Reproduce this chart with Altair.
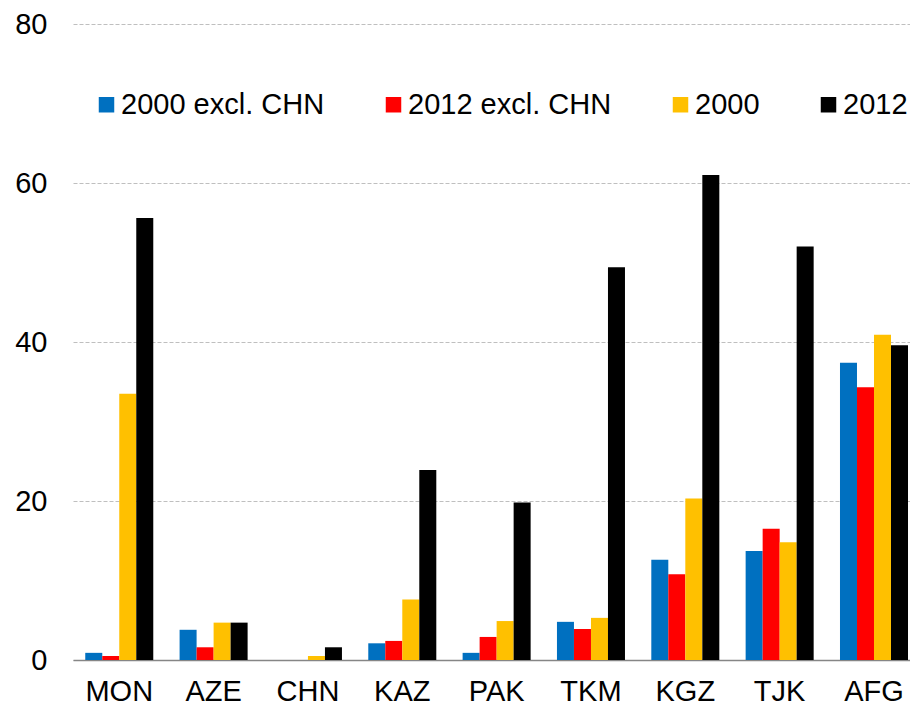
import altair as alt
import pandas as pd

countries = ["MON", "AZE", "CHN", "KAZ", "PAK", "TKM", "KGZ", "TJK", "AFG"]
series = ["2000 excl. CHN", "2012 excl. CHN", "2000", "2012"]
v2000_ex = [0.9, 3.8, 0.0, 2.1, 0.9, 4.8, 12.6, 13.7, 37.4]
v2012_ex = [0.5, 1.6, 0.0, 2.4, 2.9, 3.9, 10.8, 16.5, 34.3]
v2000 = [33.5, 4.7, 0.5, 7.6, 4.9, 5.3, 20.3, 14.8, 40.9]
v2012 = [55.6, 4.7, 1.6, 23.9, 19.8, 49.4, 61.0, 52.0, 39.6]
colors = ["#0070C0", "#FF0000", "#FFC000", "#000000"]
y_ticks = [0, 20, 40, 60, 80]

rows = []
for s, vals in zip(series, [v2000_ex, v2012_ex, v2000, v2012]):
    for c, v in zip(countries, vals):
        rows.append({"country": c, "series": s, "value": v})
df = pd.DataFrame(rows)

FONT = "Liberation Sans"
FS = 29

chart = alt.Chart(df).mark_bar().encode(
    x=alt.X("country:N", sort=countries,
            scale=alt.Scale(paddingInner=0.279, paddingOuter=0.0755, align=0.86),
            axis=alt.Axis(title=None, labelAngle=0, ticks=False, domain=True,
                          domainColor="#868686", domainWidth=1.5, grid=False,
                          labelPadding=17, labelFontSize=FS, labelFont=FONT,
                          labelColor="#000000")),
    xOffset=alt.XOffset("series:N", sort=series,
                        scale=alt.Scale(domain=series, paddingInner=0, paddingOuter=0)),
    y=alt.Y("value:Q", scale=alt.Scale(domain=[0, 80], nice=False),
            axis=alt.Axis(title=None, values=y_ticks, ticks=False, domain=False,
                          grid=True, gridColor="#BFBFBF", gridDash=[4, 2], gridWidth=1,
                          labelPadding=26, labelFontSize=FS, labelFont=FONT,
                          labelColor="#000000")),
    color=alt.Color("series:N", sort=series,
                    scale=alt.Scale(domain=series, range=colors),
                    legend=alt.Legend(title=None, orient="none", legendX=19, legendY=66,
                                      direction="horizontal", columns=4, columnPadding=54,
                                      symbolType="square", symbolSize=240,
                                      symbolStrokeWidth=0, labelFontSize=FS,
                                      labelFont=FONT, labelColor="#000000",
                                      labelOffset=0, labelLimit=0)),
).properties(
    width=837, height=636,
    autosize=alt.AutoSizeParams(type="none"),
    padding={"left": 65, "top": 16, "right": 0, "bottom": 41},
).configure_view(stroke=None)

chart.save("out.html", embed_options={"renderer": "svg", "actions": False})
